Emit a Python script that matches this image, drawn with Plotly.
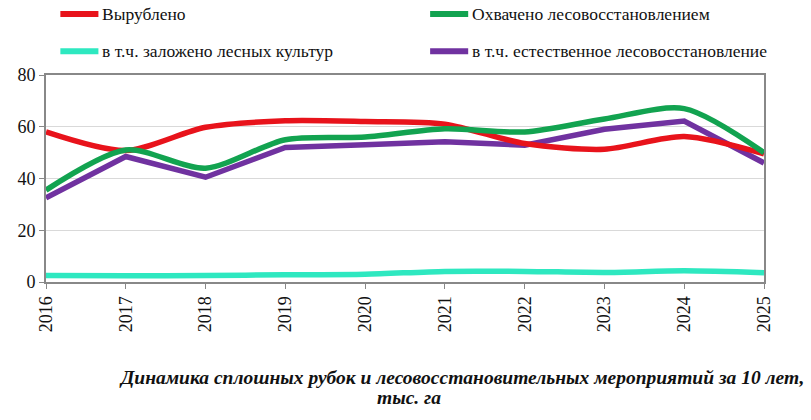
import plotly.graph_objects as go

years = [2016, 2017, 2018, 2019, 2020, 2021, 2022, 2023, 2024, 2025]
cut = [58, 50.8, 59.8, 62.3, 62.0, 61.0, 53.5, 51.3, 56.2, 49.5]
reforest = [35.5, 51.0, 44.0, 55.0, 56.0, 59.2, 58.0, 63.0, 67.0, 50.0]
planted = [2.5, 2.4, 2.5, 2.8, 3.0, 4.1, 4.1, 3.7, 4.3, 3.6]
natural = [32.5, 48.5, 40.5, 52.0, 53.0, 54.2, 52.9, 59.0, 62.2, 46.0]

names = ["Вырублено", "Охвачено лесовосстановлением",
         "в т.ч. заложено лесных культур", "в т.ч. естественное лесовосстановление"]
colors = ["#E8131B", "#12A350", "#2EE8C0", "#7032A0"]
series = [cut, reforest, planted, natural]
shapes_kind = ["spline", "spline", "spline", "linear"]

FONT = "Liberation Serif, Times New Roman, serif"
fig = go.Figure()
for i in [2, 3, 0, 1]:
    fig.add_trace(go.Scatter(x=years, y=series[i], mode="lines", name=names[i],
                             line=dict(color=colors[i], width=5.5, shape=shapes_kind[i],
                                       smoothing=0.8),
                             showlegend=False))

leg_pos = [(0.02, 1.295), (0.535, 1.295), (0.02, 1.115), (0.535, 1.115)]
for i, (lx, ly) in enumerate(leg_pos):
    fig.add_shape(type="line", xref="paper", yref="paper", x0=lx, x1=lx + 0.053,
                  y0=ly, y1=ly, line=dict(color=colors[i], width=6))
    fig.add_annotation(xref="paper", yref="paper", x=lx + 0.055, y=ly, text=names[i],
                       showarrow=False, xanchor="left", yanchor="middle",
                       font=dict(family=FONT, size=17.5, color="#111"))

fig.add_annotation(xref="paper", yref="paper", x=0.578, y=-0.46,
                   text="<b><i>Динамика сплошных рубок и лесовосстановительных мероприятий за 10 лет,</i></b>",
                   showarrow=False, xanchor="center", yanchor="middle",
                   font=dict(family=FONT, size=19.5, color="#111"))
fig.add_annotation(xref="paper", yref="paper", x=0.505, y=-0.56,
                   text="<b><i>тыс. га</i></b>",
                   showarrow=False, xanchor="center", yanchor="middle",
                   font=dict(family=FONT, size=19.5, color="#111"))

fig.update_layout(
    width=811, height=420,
    margin=dict(l=46, r=47, t=75, b=138),
    paper_bgcolor="white", plot_bgcolor="white",
    font=dict(family=FONT, size=16, color="#111"),
    xaxis=dict(range=[2016, 2025], tickvals=years, ticktext=[str(y) for y in years],
               tickangle=-90, showgrid=False, showline=True, linecolor="#888",
               linewidth=2, mirror=True, ticks="outside", ticklen=5, tickcolor="#888",
               tickfont=dict(family=FONT, size=18)),
    yaxis=dict(range=[0, 80], tickvals=[0, 20, 40, 60, 80], showgrid=True,
               gridcolor="#D9D9D9", gridwidth=1, showline=True, linecolor="#888",
               linewidth=2, mirror=True, ticks="outside", ticklen=5, tickcolor="#888",
               zeroline=False, tickfont=dict(family=FONT, size=18)),
)
fig.write_html("out.html")
